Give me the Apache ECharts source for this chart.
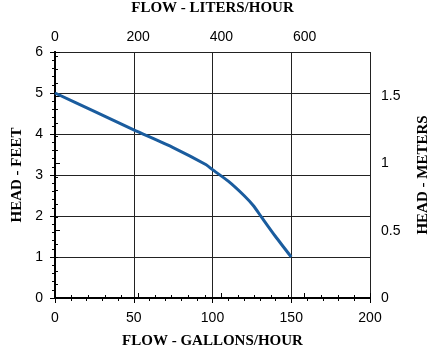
<!DOCTYPE html>
<html>
<head>
<meta charset="utf-8">
<script src="https://cdn.jsdelivr.net/npm/echarts@6/dist/echarts.min.js"></script>
<style>
  html, body { margin: 0; padding: 0; background: #fff; }
  #chart { width: 431px; height: 355px; }
</style>
</head>
<body>
<div id="chart"></div>
<script>
// flow in gallons/hour and head in feet
var flowGph = [0, 25, 50, 75, 96, 100, 110, 120, 126, 131, 140, 150];
var headFt = [5, 4.55, 4.1, 3.67, 3.25, 3.13, 2.85, 2.5, 2.25, 1.98, 1.5, 1];

var L_PER_GAL = 3.7854;
var M_PER_FT = 0.3048;
var gphMax = 200;
var ftMax = 6;

var curve = [];
flowGph.forEach(function (g, i) {
  curve.push([g, headFt[i]]);
});

var labelFont = { color: "#000", fontFamily: "Liberation Sans", fontSize: 14 };
var nameFont = { color: "#000", fontFamily: "Liberation Serif", fontSize: 15, fontWeight: "bold" };
var axisLine = { show: true, lineStyle: { color: "#000", width: 2 } };
var tick = { show: true, length: 5, lineStyle: { color: "#000", width: 1 } };
var minor = { show: true, splitNumber: 5, length: 3, lineStyle: { color: "#000", width: 1 } };

var chart = echarts.init(document.getElementById("chart"));
chart.setOption({
  animation: false,
  grid: { left: 55, right: 61, top: 52, bottom: 57, outerBoundsMode: "none", containLabel: false },
  xAxis: [
    {
      type: "value",
      position: "bottom",
      min: 0,
      max: gphMax,
      interval: 50,
      name: "FLOW - GALLONS/HOUR",
      nameLocation: "middle",
      nameGap: 36,
      nameTextStyle: nameFont,
      axisLine: axisLine,
      axisTick: tick,
      minorTick: minor,
      axisLabel: Object.assign({ margin: 13 }, labelFont),
      splitLine: { show: true, lineStyle: { color: "#222", width: 1 } }
    },
    {
      type: "value",
      position: "top",
      min: 0,
      max: gphMax * L_PER_GAL,
      interval: 200,
      name: "FLOW - LITERS/HOUR",
      nameLocation: "middle",
      nameGap: 36,
      nameTextStyle: nameFont,
      axisLine: axisLine,
      axisTick: tick,
      minorTick: minor,
      axisLabel: Object.assign({ margin: 8, showMaxLabel: false }, labelFont),
      splitLine: { show: false }
    }
  ],
  yAxis: [
    {
      type: "value",
      position: "left",
      min: 0,
      max: ftMax,
      interval: 1,
      name: "HEAD - FEET",
      nameLocation: "middle",
      nameGap: 29,
      nameTextStyle: nameFont,
      axisLine: axisLine,
      axisTick: tick,
      minorTick: minor,
      axisLabel: Object.assign({ margin: 12 }, labelFont),
      splitLine: { show: true, lineStyle: { color: "#222", width: 1 } }
    },
    {
      type: "value",
      position: "right",
      min: 0,
      max: ftMax * M_PER_FT,
      interval: 0.5,
      name: "HEAD - METERS",
      nameLocation: "middle",
      nameGap: 46,
      nameTextStyle: nameFont,
      axisLine: axisLine,
      axisTick: tick,
      minorTick: minor,
      axisLabel: Object.assign({ margin: 11, showMaxLabel: false }, labelFont),
      splitLine: { show: false }
    }
  ],
  series: [
    {
      type: "line",
      xAxisIndex: 0,
      yAxisIndex: 0,
      data: curve,
      smooth: 0.2,
      symbol: "none",
      lineStyle: { color: "#1a5c9e", width: 3 }
    }
  ]
});
</script>
</body>
</html>
